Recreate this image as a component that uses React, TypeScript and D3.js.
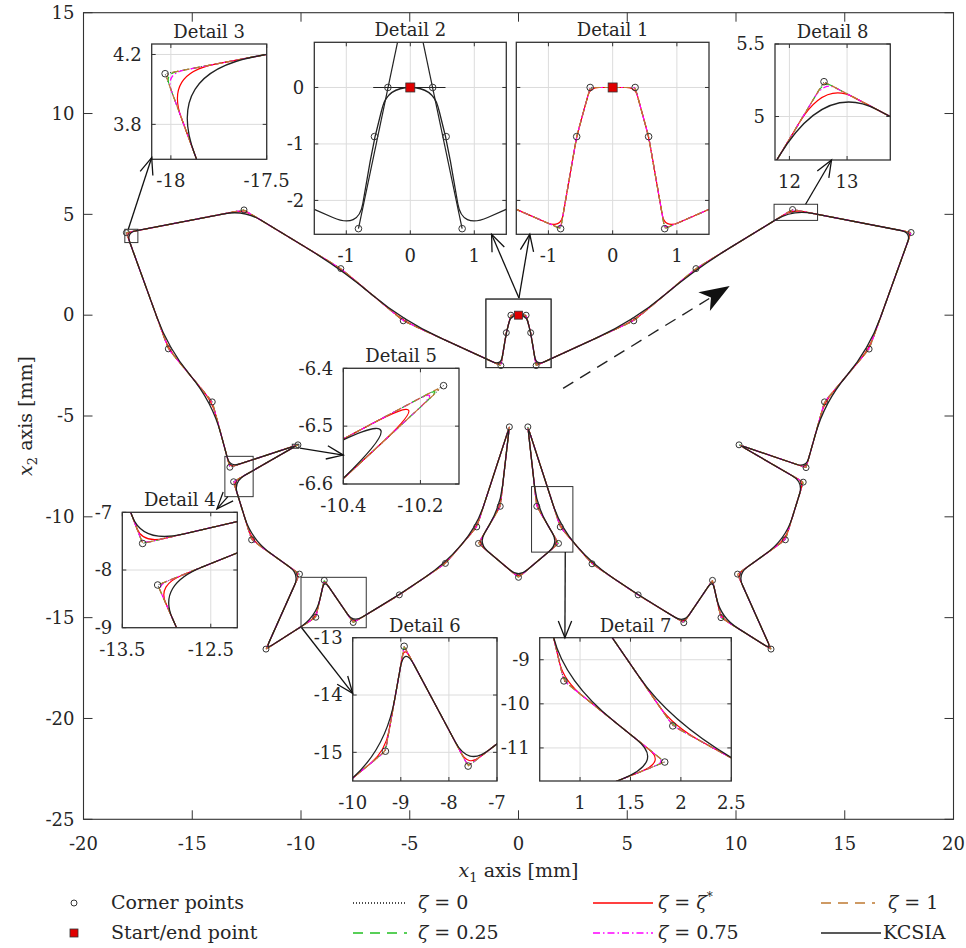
import React from "react";
import * as d3 from "d3";

type Pt = [number, number];

// ---- data (mm) ----
const startPoint: Pt = [0, 0];

// corner points, in path order, starting right of the start point
const cornerPoints: Pt[] = [
  [0.35, 0], [0.56, -0.87], [0.81, -2.5], [5.3, -0.28], [8.16, 2.31],
  [12.6, 5.24], [18.05, 4.1], [16.12, -1.68], [14.07, -4.3], [13.22, -7.56],
  [10.14, -6.43], [13.09, -8.28], [12.27, -11.14], [10.07, -12.84], [11.61, -16.56],
  [9.31, -15.0], [8.92, -13.15], [7.6, -15.25], [5.5, -13.87], [3.38, -12.33],
  [1.92, -10.5], [0.43, -5.54], [0.84, -9.48], [1.84, -11.32], [0, -13.0],
  [-1.84, -11.32], [-0.84, -9.48], [-0.42, -5.54], [-1.92, -10.5], [-3.36, -12.31],
  [-5.48, -13.87], [-7.6, -15.24], [-8.93, -13.15], [-9.32, -14.98], [-11.61, -16.56],
  [-10.07, -12.84], [-12.27, -11.14], [-13.1, -8.26], [-10.14, -6.43], [-13.27, -7.54],
  [-14.08, -4.3], [-16.1, -1.67], [-18.03, 4.09], [-12.62, 5.22], [-8.17, 2.31],
  [-5.3, -0.28], [-0.81, -2.5], [-0.56, -0.87], [-0.35, 0],
];

const xTicks = [-20, -15, -10, -5, 0, 5, 10, 15, 20];
const yTicks = [-25, -20, -15, -10, -5, 0, 5, 10, 15];

// curves: how far each one cuts a corner (mm) and max share of the shorter side
const seriesKeys = ["zeta0", "zeta025", "zetaStar", "zeta075", "zeta1", "kcsia"];
const seriesTol = [0, 0.025, 0.1, 0.04, 0.015, 0.18];
const seriesShare = [0, 0.1, 0.2, 0.06, 0.05, 0.5];

const seriesStyle: Record<string, { stroke: string; dash?: string; width: number }> = {
  zeta0: { stroke: "#111", dash: "1 2.5", width: 1 },
  zeta025: { stroke: "#22c022", dash: "7 4", width: 1.2 },
  zetaStar: { stroke: "#ff0000", width: 1.2 },
  zeta075: { stroke: "#ff00ff", dash: "6 2.5 1.5 2.5", width: 1.2 },
  zeta1: { stroke: "#bf7a32", dash: "7 4", width: 1.2 },
  kcsia: { stroke: "#222", width: 1.3 },
};

// detail views
const insetNames = ["Detail 1", "Detail 2", "Detail 3", "Detail 4", "Detail 5", "Detail 6", "Detail 7", "Detail 8"];
const insetXDomain: Record<string, [number, number]> = {
  "Detail 1": [-1.5, 1.5], "Detail 2": [-1.5, 1.5], "Detail 3": [-18.1, -17.5], "Detail 4": [-13.5, -12.2],
  "Detail 5": [-10.4, -10.1], "Detail 6": [-10, -7], "Detail 7": [0.6, 2.5], "Detail 8": [11.75, 13.75],
};
const insetYDomain: Record<string, [number, number]> = {
  "Detail 1": [-2.6, 0.8], "Detail 2": [-2.6, 0.8], "Detail 3": [3.6, 4.26], "Detail 4": [-9, -7],
  "Detail 5": [-6.6, -6.4], "Detail 6": [-15.5, -13], "Detail 7": [-11.75, -8.5], "Detail 8": [4.7, 5.5],
};
const insetXTicks: Record<string, number[]> = {
  "Detail 1": [-1, 0, 1], "Detail 2": [-1, 0, 1], "Detail 3": [-18, -17.5], "Detail 4": [-13.5, -12.5],
  "Detail 5": [-10.4, -10.2], "Detail 6": [-10, -9, -8, -7], "Detail 7": [1, 1.5, 2, 2.5], "Detail 8": [12, 13],
};
const insetYTicks: Record<string, number[]> = {
  "Detail 1": [-2, -1, 0], "Detail 2": [-2, -1, 0], "Detail 3": [3.8, 4.2], "Detail 4": [-9, -8, -7],
  "Detail 5": [-6.6, -6.5, -6.4], "Detail 6": [-15, -14, -13], "Detail 7": [-11, -10, -9], "Detail 8": [5, 5.5],
};
const insetSeries: Record<string, string[]> = {
  "Detail 1": ["zeta0", "zeta025", "zetaStar", "zeta075", "zeta1"],
  "Detail 2": ["kcsia"],
};
// construction lines shown in Detail 2
const detail2Guides: [Pt, Pt][] = [
  [[-0.58, 0], [0.55, 0]],
  [[-0.81, -2.5], [-0.2, 0.8]],
  [[0.81, -2.5], [0.2, 0.8]],
];

// arrows: from a point of the main plot to a point of the detail view
const arrowDetail = ["Detail 3", "Detail 2", "Detail 1", "Detail 8", "Detail 5", "Detail 4", "Detail 6", "Detail 7"];
const arrowFrom: Pt[] = [
  [-17.94, 4.26], [0.02, 0.85], [0.02, 0.85], [13.2, 5.5], [-10.05, -6.59], [-13.36, -9.0], [-9.97, -15.5], [2.15, -11.75],
];
const arrowTo: Pt[] = [
  [-18.1, 3.61], [1.27, -2.6], [-1.29, -2.6], [12.73, 4.7], [-10.4, -6.55], [-12.43, -6.94], [-10, -13.97], [0.85, -8.5],
];
const flowArrow: Pt[] = [[2.05, -3.63], [9.71, 1.45]];

// ---- layout ----
const W = 966;
const H = 948;
const FONT = "'DejaVu Serif', serif";
const TICK = 18;
const LABEL = 19;
const INK = "#262626";
const MAIN = { left: 83.5, right: 953.5, top: 12.7, bottom: 819.3 };

const insetBox: Record<string, { x0: number; x1: number; y0: number; y1: number }> = {
  "Detail 1": { x0: 516.3, x1: 709, y0: 42.3, y1: 234.3 },
  "Detail 2": { x0: 314.3, x1: 506.3, y0: 42.3, y1: 234.3 },
  "Detail 3": { x0: 151.7, x1: 266.7, y0: 44, y1: 159.3 },
  "Detail 4": { x0: 122.3, x1: 237.3, y0: 512.3, y1: 627.7 },
  "Detail 5": { x0: 343.3, x1: 459, y0: 368.3, y1: 484 },
  "Detail 6": { x0: 352.7, x1: 497, y0: 637.7, y1: 781 },
  "Detail 7": { x0: 539.7, x1: 731.3, y0: 637.7, y1: 781 },
  "Detail 8": { x0: 775, x1: 890.3, y0: 44, y1: 160 },
};

const x = d3.scaleLinear().domain([-20, 20]).range([MAIN.left, MAIN.right]);
const y = d3.scaleLinear().domain([-25, 15]).range([MAIN.bottom, MAIN.top]);

const insetScales = (name: string) => {
  const b = insetBox[name];
  return {
    sx: d3.scaleLinear().domain(insetXDomain[name]).range([b.x0, b.x1]),
    sy: d3.scaleLinear().domain(insetYDomain[name]).range([b.y1, b.y0]),
  };
};

// closed path through the corners, each corner rounded by a quadratic piece
function loopPath(pts: Pt[], start: Pt, tol: number, share: number, sx: (v: number) => number, sy: (v: number) => number) {
  const n = pts.length;
  const p = d3.path();
  p.moveTo(sx(start[0]), sy(start[1]));
  pts.forEach((c, i) => {
    const a = pts[(i + n - 1) % n];
    const b = pts[(i + 1) % n];
    const lin = Math.hypot(c[0] - a[0], c[1] - a[1]);
    const lout = Math.hypot(b[0] - c[0], b[1] - c[1]);
    const ui = [(c[0] - a[0]) / lin, (c[1] - a[1]) / lin];
    const uo = [(b[0] - c[0]) / lout, (b[1] - c[1]) / lout];
    const turn = Math.hypot(uo[0] - ui[0], uo[1] - ui[1]);
    let L = 0;
    if (tol > 0) L = Math.min(turn > 1e-6 ? (4 * tol) / turn : Infinity, share * Math.min(lin, lout));
    p.lineTo(sx(c[0] - L * ui[0]), sy(c[1] - L * ui[1]));
    if (L > 0) p.quadraticCurveTo(sx(c[0]), sy(c[1]), sx(c[0] + L * uo[0]), sy(c[1] + L * uo[1]));
  });
  p.closePath();
  return p.toString();
}

const Curves = ({ keys, sx, sy }: { keys: string[]; sx: any; sy: any }) => (
  <g fill="none" strokeLinejoin="round">
    {keys.map((k) => {
      const i = seriesKeys.indexOf(k);
      const st = seriesStyle[k];
      return (
        <path key={k} d={loopPath(cornerPoints, startPoint, seriesTol[i], seriesShare[i], sx, sy)}
          stroke={st.stroke} strokeWidth={st.width} strokeDasharray={st.dash} />
      );
    })}
  </g>
);

const Markers = ({ sx, sy, r, sq }: { sx: any; sy: any; r: number; sq: number }) => (
  <g>
    {cornerPoints.map((c, i) => (
      <circle key={i} cx={sx(c[0])} cy={sy(c[1])} r={r} fill="none" stroke="#333" strokeWidth={1} />
    ))}
    <rect x={sx(startPoint[0]) - sq / 2} y={sy(startPoint[1]) - sq / 2} width={sq} height={sq}
      fill="#e00000" stroke="#333" strokeWidth={0.8} />
  </g>
);

const OpenArrow = ({ a, b }: { a: Pt; b: Pt }) => {
  const ang = Math.atan2(b[1] - a[1], b[0] - a[0]);
  const len = 18;
  const spr = 0.38;
  const h1 = [b[0] - len * Math.cos(ang - spr), b[1] - len * Math.sin(ang - spr)];
  const h2 = [b[0] - len * Math.cos(ang + spr), b[1] - len * Math.sin(ang + spr)];
  return (
    <g stroke="#111" strokeWidth={1.3} fill="none">
      <line x1={a[0]} y1={a[1]} x2={b[0]} y2={b[1]} />
      <polyline points={`${h1[0]},${h1[1]} ${b[0]},${b[1]} ${h2[0]},${h2[1]}`} />
    </g>
  );
};

const Inset = ({ name }: { name: string }) => {
  const b = insetBox[name];
  const { sx, sy } = insetScales(name);
  const id = "clip-" + name.replace(" ", "");
  const keys = insetSeries[name] || seriesKeys;
  const showY = name !== "Detail 1";
  return (
    <g>
      <clipPath id={id}>
        <rect x={b.x0} y={b.y0} width={b.x1 - b.x0} height={b.y1 - b.y0} />
      </clipPath>
      <rect x={b.x0} y={b.y0} width={b.x1 - b.x0} height={b.y1 - b.y0} fill="#fff" />
      <g stroke="#dcdcdc" strokeWidth={1}>
        {insetXTicks[name].map((t) => (
          <line key={"gx" + t} x1={sx(t)} x2={sx(t)} y1={b.y0} y2={b.y1} />
        ))}
        {insetYTicks[name].map((t) => (
          <line key={"gy" + t} x1={b.x0} x2={b.x1} y1={sy(t)} y2={sy(t)} />
        ))}
      </g>
      <g clipPath={`url(#${id})`}>
        {name === "Detail 2" && (
          <g stroke="#222" strokeWidth={1.2}>
            {detail2Guides.map((g, i) => (
              <line key={i} x1={sx(g[0][0])} y1={sy(g[0][1])} x2={sx(g[1][0])} y2={sy(g[1][1])} />
            ))}
          </g>
        )}
        <Curves keys={keys} sx={sx} sy={sy} />
        <Markers sx={sx} sy={sy} r={3.3} sq={9} />
      </g>
      <rect x={b.x0} y={b.y0} width={b.x1 - b.x0} height={b.y1 - b.y0} fill="none" stroke="#333" strokeWidth={1.3} />
      <g stroke="#333" strokeWidth={1}>
        {insetXTicks[name].map((t) => (
          <g key={"tx" + t}>
            <line x1={sx(t)} x2={sx(t)} y1={b.y1} y2={b.y1 - 4} />
            <line x1={sx(t)} x2={sx(t)} y1={b.y0} y2={b.y0 + 4} />
          </g>
        ))}
        {insetYTicks[name].map((t) => (
          <g key={"ty" + t}>
            <line x1={b.x0} x2={b.x0 + 4} y1={sy(t)} y2={sy(t)} />
            <line x1={b.x1} x2={b.x1 - 4} y1={sy(t)} y2={sy(t)} />
          </g>
        ))}
      </g>
      <g fill={INK} fontSize={TICK} style={{ fontFamily: FONT }}>
        {insetXTicks[name].map((t) => (
          <text key={"lx" + t} x={sx(t)} y={b.y1 + 28} textAnchor="middle">{String(t)}</text>
        ))}
        {showY && insetYTicks[name].map((t) => (
          <text key={"ly" + t} x={b.x0 - 10} y={sy(t)} dy="0.35em" textAnchor="end">{String(t)}</text>
        ))}
        <text x={(b.x0 + b.x1) / 2} y={b.y0 - 6} textAnchor="middle">{name}</text>
      </g>
    </g>
  );
};

const Zeta = ({ rest }: { rest: React.ReactNode }) => (
  <>
    <tspan fontStyle="italic">ζ</tspan>
    {rest}
  </>
);

export default function App() {
  const flowA: Pt = [x(flowArrow[0][0]), y(flowArrow[0][1])];
  const flowB: Pt = [x(flowArrow[1][0]), y(flowArrow[1][1])];
  const fa = Math.atan2(flowB[1] - flowA[1], flowB[0] - flowA[0]);
  const rot = (l: number, s: number): string =>
    `${flowB[0] - l * Math.cos(fa) + s * Math.sin(fa)},${flowB[1] - l * Math.sin(fa) - s * Math.cos(fa)}`;
  const headPts = [rot(0, 0), rot(30, 11), rot(22, 0), rot(30, -11)].join(" ");
  const lineEnd = [flowB[0] - 24 * Math.cos(fa), flowB[1] - 24 * Math.sin(fa)];

  const legendRow = [903, 933];
  const col = { mark: 74, text1: 111, l2: 353, l2e: 407, t2: 418, l3: 593, l3e: 653, t3: 658, l4: 821, t4: 888 };

  return (
    <svg width={W} height={H} style={{ position: "absolute", left: 0, top: 0, fontFamily: FONT }}>
      <rect width={W} height={H} fill="#fff" />

      {/* main axes */}
      <rect x={MAIN.left} y={MAIN.top} width={MAIN.right - MAIN.left} height={MAIN.bottom - MAIN.top}
        fill="none" stroke="#333" strokeWidth={1.1} />
      <g stroke="#333" strokeWidth={1}>
        {xTicks.map((t) => (
          <g key={"mx" + t}>
            <line x1={x(t)} x2={x(t)} y1={MAIN.bottom} y2={MAIN.bottom - 9} />
            <line x1={x(t)} x2={x(t)} y1={MAIN.top} y2={MAIN.top + 9} />
          </g>
        ))}
        {yTicks.map((t) => (
          <g key={"my" + t}>
            <line x1={MAIN.left} x2={MAIN.left + 9} y1={y(t)} y2={y(t)} />
            <line x1={MAIN.right} x2={MAIN.right - 9} y1={y(t)} y2={y(t)} />
          </g>
        ))}
      </g>
      <g fill={INK} fontSize={TICK} style={{ fontFamily: FONT }}>
        {xTicks.map((t) => (
          <text key={"lx" + t} x={x(t)} y={MAIN.bottom + 31} textAnchor="middle">{String(t)}</text>
        ))}
        {yTicks.map((t) => (
          <text key={"ly" + t} x={MAIN.left - 9} y={y(t)} dy="0.35em" textAnchor="end">{String(t)}</text>
        ))}
      </g>
      <text x={(MAIN.left + MAIN.right) / 2} y={877} textAnchor="middle" fontSize={LABEL} fill={INK} style={{ fontFamily: FONT }}>
        <tspan fontStyle="italic">x</tspan>
        <tspan fontSize={13} dy={5}>1</tspan>
        <tspan dy={-5}> axis [mm]</tspan>
      </text>
      <text transform={`translate(32,${(MAIN.top + MAIN.bottom) / 2}) rotate(-90)`} textAnchor="middle" fontSize={LABEL}
        fill={INK} style={{ fontFamily: FONT }}>
        <tspan fontStyle="italic">x</tspan>
        <tspan fontSize={13} dy={5}>2</tspan>
        <tspan dy={-5}> axis [mm]</tspan>
      </text>

      {/* main curves */}
      <Curves keys={seriesKeys} sx={x} sy={y} />
      <Markers sx={x} sy={y} r={3} sq={8} />

      {/* zoomed regions in the main plot */}
      <g fill="none" stroke="#333" strokeWidth={1}>
        {insetNames.map((n) => {
          const xd = insetXDomain[n];
          const yd = insetYDomain[n];
          return (
            <rect key={n} x={x(xd[0])} y={y(yd[1])} width={x(xd[1]) - x(xd[0])} height={y(yd[0]) - y(yd[1])} />
          );
        })}
      </g>

      {/* direction arrow */}
      <line x1={flowA[0]} y1={flowA[1]} x2={lineEnd[0]} y2={lineEnd[1]} stroke="#222" strokeWidth={1.4} strokeDasharray="12 8" />
      <polygon points={headPts} fill="#111" />

      {/* detail views */}
      {insetNames.map((n) => (
        <Inset key={n} name={n} />
      ))}

      {arrowDetail.map((n, i) => {
        const { sx, sy } = insetScales(n);
        return (
          <OpenArrow key={i} a={[x(arrowFrom[i][0]), y(arrowFrom[i][1])]} b={[sx(arrowTo[i][0]), sy(arrowTo[i][1])]} />
        );
      })}

      {/* legend */}
      <g fontSize={LABEL} fill={INK} style={{ fontFamily: FONT }}>
        <circle cx={col.mark} cy={legendRow[0]} r={3} fill="none" stroke="#333" />
        <text x={col.text1} y={legendRow[0]} dy="0.33em">Corner points</text>
        <rect x={col.mark - 4} y={legendRow[1] - 4} width={8} height={8} fill="#e00000" stroke="#333" strokeWidth={0.8} />
        <text x={col.text1} y={legendRow[1]} dy="0.33em">Start/end point</text>

        {[
          { k: "zeta0", lx: col.l2, le: col.l2e, tx: col.t2, row: 0, label: <Zeta rest=" = 0" /> },
          { k: "zeta025", lx: col.l2, le: col.l2e, tx: col.t2, row: 1, label: <Zeta rest=" = 0.25" /> },
          {
            k: "zetaStar", lx: col.l3, le: col.l3e, tx: col.t3, row: 0,
            label: <Zeta rest={<>{" = "}<tspan fontStyle="italic">ζ</tspan><tspan fontSize={12} dy={-8}>*</tspan></>} />,
          },
          { k: "zeta075", lx: col.l3, le: col.l3e, tx: col.t3, row: 1, label: <Zeta rest=" = 0.75" /> },
          { k: "zeta1", lx: col.l4, le: 875, tx: col.t4, row: 0, label: <Zeta rest=" = 1" /> },
          { k: "kcsia", lx: col.l4, le: 881, tx: 883, row: 1, label: "KCSIA" },
        ].map((e) => {
          const st = seriesStyle[e.k];
          const yy = legendRow[e.row];
          return (
            <g key={e.k}>
              <line x1={e.lx} x2={e.le} y1={yy} y2={yy} stroke={st.stroke} strokeWidth={1.4}
                strokeDasharray={e.k === "zeta0" ? "1 2" : e.k === "zeta075" ? "7 3 1.5 3" : st.dash ? "10 7" : undefined} />
              <text x={e.tx} y={yy} dy="0.33em">{e.label}</text>
            </g>
          );
        })}
      </g>
    </svg>
  );
}
